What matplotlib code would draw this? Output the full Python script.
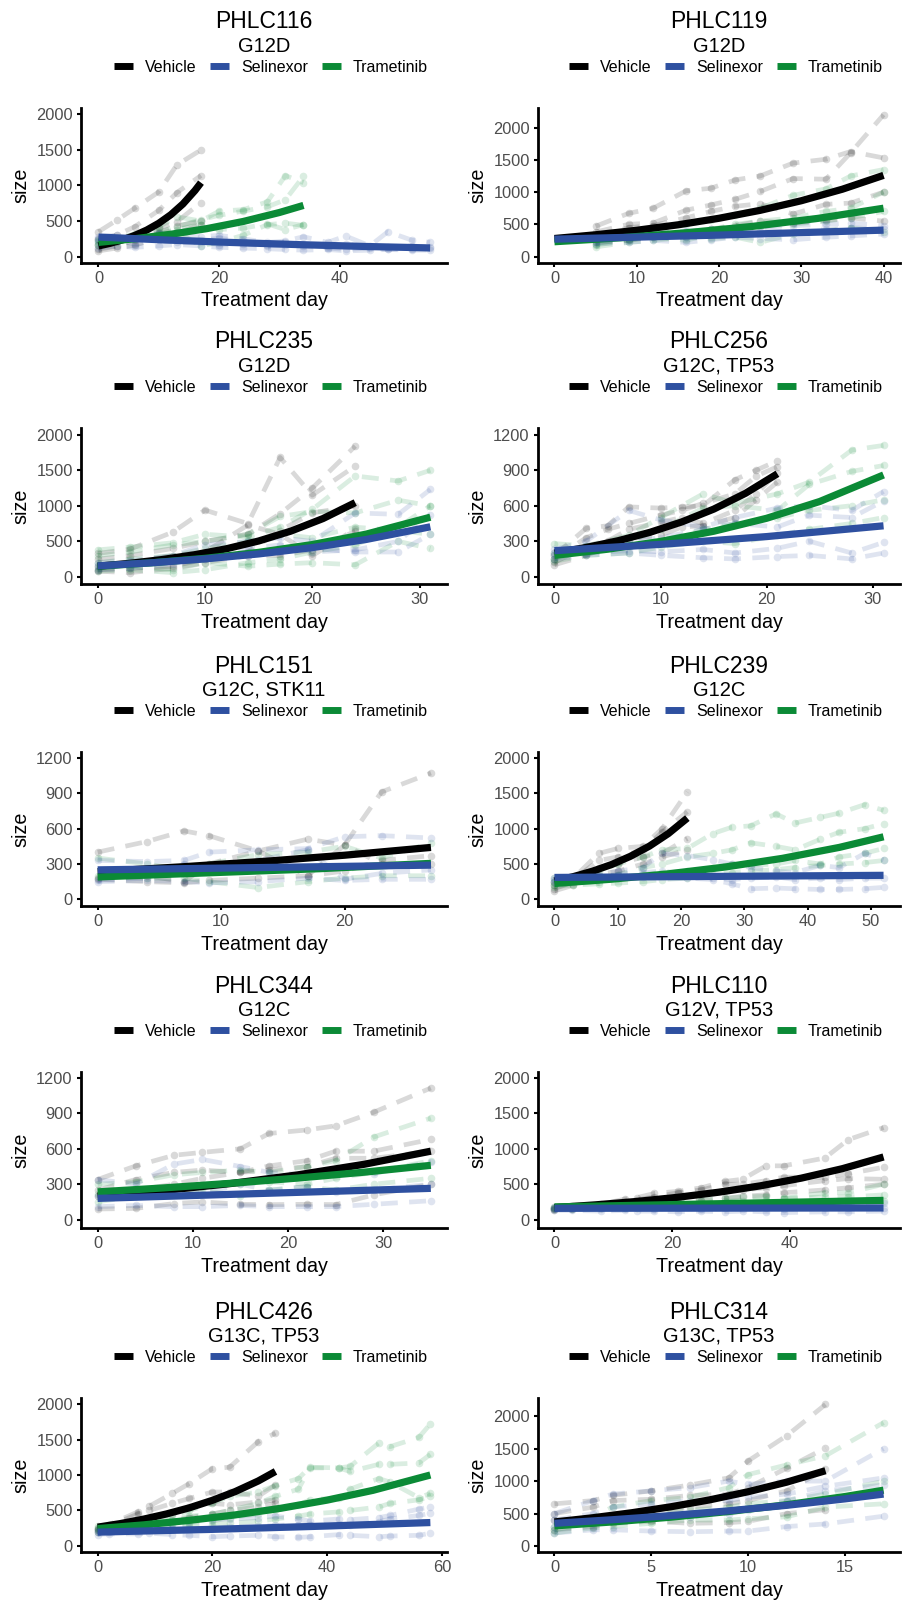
import numpy as np
import matplotlib.pyplot as plt
from matplotlib.lines import Line2D

plt.rcParams['font.family'] = ['Liberation Sans', 'DejaVu Sans']

groups = ['Vehicle', 'Selinexor', 'Trametinib']
group_colors = {'Vehicle': '#000000', 'Selinexor': '#2E50A0', 'Trametinib': '#0B8A36'}

# ---------------- PHLC116 ----------------
p116_veh_days = [0, 3, 6, 10, 13, 17]
p116_veh = [[350, 510, 680, 910, 1290, 1500],
            [250, 300, 420, 650, 900, 1140],
            [160, 220, 300, 400, 490, 760],
            [100, 150, 230, 330, 430, 500],
            [80, 120, 160, 260, 330, 450]]
p116_tra_days = [0, 3, 6, 10, 13, 17, 20, 24, 28, 31, 34]
p116_tra = [[230, 260, 320, 420, 560, 500, 640, 660, 770, 1140, 1040],
            [180, 220, 280, 350, 420, 520, 580, 640, 700, 800, 1130],
            [160, 200, 250, 300, 350, 150, 200, 300, 450, 470, 440],
            [220, 250, 280, 320, 380, 450, 380, 400, 460, 380, 450]]
p116_sel_days = [0, 3, 6, 10, 13, 17, 20, 24, 28, 31, 34, 38, 41, 45, 48, 52, 55]
p116_sel = [[280, 300, 260, 330, 300, 280, 300, 250, 200, 220, 280, 200, 290, 150, 350, 230, 200],
            [200, 220, 180, 230, 200, 200, 170, 180, 150, 160, 180, 120, 100, 120, 100, 110, 120],
            [120, 150, 130, 150, 170, 150, 130, 120, 110, 100, 90, 100, 80, 90, 100, 90, 90],
            [250, 250, 300, 280, 250, 230, 260, 220, 170, 200, 150, 150, 180, 130, 140, 150, 130]]
p116_fit_veh = ([0, 2, 4, 6, 8, 10, 12, 14, 16, 17], [150, 188, 237, 297, 373, 469, 589, 740, 929, 1040])
p116_fit_tra = ([0, 6, 12, 18, 24, 30, 34], [200, 251, 314, 394, 494, 620, 720])
p116_fit_sel = ([0, 11, 22, 33, 44, 55], [275, 234, 199, 169, 143, 122])

# ---------------- PHLC119 ----------------
p119_days = [5, 9, 12, 16, 19, 22, 25, 29, 33, 36, 40]
p119_veh = [[470, 670, 750, 1020, 1060, 1190, 1250, 1450, 1510, 1630, 1530],
            [380, 500, 520, 720, 800, 890, 1010, 1210, 1200, 1610, 2200],
            [300, 450, 480, 600, 700, 780, 820, 660, 810, 830, 1000],
            [220, 250, 300, 380, 420, 480, 550, 520, 560, 600, 550]]
p119_tra = [[250, 300, 380, 500, 560, 650, 750, 950, 1050, 1250, 1350],
            [180, 250, 320, 350, 420, 500, 550, 600, 700, 750, 1000],
            [150, 220, 250, 300, 280, 300, 220, 350, 400, 450, 380],
            [200, 280, 300, 250, 350, 400, 480, 500, 550, 600, 700]]
p119_sel = [[230, 280, 320, 300, 380, 400, 420, 380, 420, 450, 420],
            [280, 320, 360, 400, 420, 450, 470, 480, 500, 520, 480],
            [200, 220, 250, 220, 260, 300, 280, 260, 300, 320, 350]]
p119_fit_veh = ([0, 5, 10, 15, 20, 25, 30, 35, 40], [280, 338, 408, 492, 594, 717, 866, 1045, 1260])
p119_fit_tra = ([0, 8, 16, 24, 32, 40], [230, 291, 369, 467, 592, 750])
p119_fit_sel = ([0, 20, 40], [270, 333, 410])

# ---------------- PHLC235 ----------------
p235_veh_days = [0, 3, 7, 10, 14, 17, 20, 24]
p235_veh = [[330, 390, 630, 940, 750, 1680, 1150, 1560],
            [250, 300, 400, 500, 600, 890, 1250, 1840],
            [150, 200, 300, 350, 730, 600, 300, 670],
            [100, 120, 150, 250, 350, 650, 900, 1000],
            [80, 60, 120, 200, 300, 300, 380, 640]]
p235_days = [0, 3, 7, 10, 14, 17, 20, 24, 28, 31]
p235_tra = [[380, 420, 480, 600, 560, 700, 950, 1420, 1350, 1500],
            [300, 350, 450, 500, 600, 850, 920, 900, 1080, 1000],
            [200, 250, 300, 400, 500, 600, 550, 700, 650, 600],
            [120, 150, 100, 200, 150, 180, 200, 170, 500, 400],
            [80, 100, 60, 100, 200, 250, 350, 450, 700, 1000]]
p235_sel = [[200, 230, 300, 450, 500, 550, 500, 900, 880, 1230],
            [150, 180, 250, 300, 400, 450, 350, 380, 500, 870],
            [100, 120, 180, 250, 300, 350, 400, 350, 350, 600]]
p235_fit_veh = ([0, 3, 6, 9, 12, 15, 18, 21, 24], [150, 191, 244, 311, 396, 505, 644, 821, 1045])
p235_fit_tra = ([0, 5, 10, 15, 20, 25, 31], [150, 198, 261, 345, 455, 601, 840])
p235_fit_sel = ([0, 5, 10, 15, 20, 25, 31], [155, 198, 253, 323, 412, 526, 705])

# ---------------- PHLC256 ----------------
p256_veh_days = [0, 3, 5, 7, 10, 12, 14, 17, 19, 21]
p256_veh = [[180, 410, 430, 590, 580, 590, 600, 820, 900, 980],
            [150, 330, 400, 450, 520, 560, 620, 700, 850, 930],
            [120, 260, 300, 400, 460, 500, 450, 560, 700, 880],
            [100, 180, 250, 320, 350, 420, 430, 500, 650, 800]]
p256_days = [0, 3, 7, 10, 14, 17, 21, 24, 28, 31]
p256_tra = [[280, 260, 350, 500, 700, 620, 700, 800, 1070, 1110],
            [200, 250, 300, 400, 580, 600, 560, 780, 890, 940],
            [150, 220, 260, 300, 400, 450, 500, 560, 600, 650],
            [130, 180, 200, 250, 300, 280, 350, 400, 450, 500]]
p256_sel = [[230, 300, 560, 480, 420, 500, 580, 600, 560, 720],
            [200, 250, 300, 330, 400, 450, 420, 520, 500, 640],
            [180, 200, 220, 210, 230, 200, 240, 300, 200, 290],
            [150, 180, 200, 180, 160, 150, 170, 180, 150, 200]]
p256_fit_veh = ([0, 3, 6, 9, 12, 15, 18, 21], [200, 247, 304, 375, 463, 571, 705, 870])
p256_fit_tra = ([0, 5, 10, 15, 20, 25, 31], [180, 232, 298, 384, 494, 636, 860])
p256_fit_sel = ([0, 10, 20, 31], [220, 273, 339, 430])

# ---------------- PHLC151 ----------------
p151_days = [0, 4, 7, 9, 13, 17, 20, 23, 27]
p151_veh = [[400, 490, 580, 540, 410, 510, 460, 910, 1070],
            [170, 150, 140, 160, 180, 200, 240, 330, 370],
            [180, 200, 150, 300, 410, 200, 460, 300, 300]]
p151_tra = [[350, 300, 250, 300, 380, 400, 450, 350, 480],
            [200, 180, 180, 150, 100, 150, 180, 200, 200]]
p151_sel = [[330, 320, 330, 400, 420, 430, 530, 540, 520],
            [160, 180, 300, 250, 330, 420, 170, 220, 250],
            [150, 160, 150, 140, 150, 180, 160, 170, 170]]
p151_fit_veh = ([0, 7, 14, 20, 27], [235, 277, 326, 374, 440])
p151_fit_tra = ([0, 9, 18, 27], [190, 225, 260, 305])
p151_fit_sel = ([0, 27], [250, 290])

# ---------------- PHLC239 ----------------
p239_veh_days = [0, 3, 7, 10, 14, 17, 21]
p239_veh = [[250, 300, 650, 720, 750, 1000, 1520],
            [200, 280, 550, 600, 700, 950, 1240],
            [150, 250, 450, 500, 600, 650, 860],
            [120, 200, 350, 400, 500, 600, 700]]
p239_days = [0, 3, 7, 10, 14, 17, 21, 25, 28, 31, 35, 38, 42, 45, 49, 52]
p239_tra = [[300, 320, 400, 500, 600, 700, 720, 930, 1020, 1040, 1210, 1080, 1160, 1220, 1340, 1260],
            [250, 280, 300, 350, 450, 500, 600, 650, 700, 800, 750, 700, 850, 950, 1000, 1070],
            [200, 220, 250, 300, 350, 380, 400, 450, 500, 480, 500, 550, 500, 600, 650, 720],
            [180, 200, 220, 230, 250, 280, 300, 350, 380, 400, 420, 450, 480, 500, 520, 550]]
p239_sel = [[300, 320, 350, 400, 450, 650, 620, 560, 500, 450, 400, 380, 480, 450, 650, 560],
            [280, 300, 320, 350, 380, 400, 350, 300, 280, 300, 320, 280, 300, 280, 300, 300],
            [250, 270, 300, 300, 320, 350, 300, 280, 220, 150, 160, 150, 140, 140, 150, 170]]
p239_fit_veh = ([0, 3, 6, 9, 12, 15, 18, 21], [260, 322, 398, 492, 609, 753, 931, 1150])
p239_fit_tra = ([0, 9, 18, 27, 36, 45, 52], [225, 285, 361, 458, 580, 735, 885])
p239_fit_sel = ([0, 52], [310, 340])

# ---------------- PHLC344 ----------------
p344_days = [0, 4, 8, 11, 15, 18, 22, 25, 29, 35]
p344_veh = [[340, 455, 545, 570, 600, 730, 760, 795, 910, 1115],
            [250, 340, 400, 420, 400, 455, 500, 580, 580, 680],
            [200, 250, 300, 350, 400, 420, 450, 520, 520, 580],
            [90, 95, 136, 150, 130, 127, 130, 127, 210, 300]]
p344_tra = [[300, 320, 380, 400, 420, 400, 450, 500, 700, 860],
            [220, 250, 260, 280, 300, 320, 300, 350, 400, 500],
            [150, 200, 220, 250, 200, 250, 280, 250, 300, 350]]
p344_sel = [[340, 300, 470, 510, 450, 400, 380, 400, 390, 490],
            [200, 220, 250, 220, 300, 250, 280, 230, 250, 300],
            [110, 120, 110, 110, 120, 110, 110, 110, 130, 160]]
p344_fit_veh = ([0, 7, 14, 21, 28, 35], [200, 247, 306, 379, 469, 580])
p344_fit_tra = ([0, 7, 14, 21, 28, 35], [235, 269, 308, 352, 402, 460])
p344_fit_sel = ([0, 35], [180, 265])

# ---------------- PHLC110 ----------------
p110_days = [0, 3, 8, 12, 14, 17, 21, 25, 29, 32, 36, 39, 46, 50, 56]
p110_veh = [[170, 180, 220, 290, 310, 370, 400, 450, 540, 570, 760, 760, 870, 1130, 1300],
            [160, 170, 200, 250, 280, 320, 380, 420, 500, 500, 550, 600, 600, 650, 740],
            [150, 160, 190, 220, 250, 280, 320, 350, 400, 420, 450, 480, 550, 580, 570],
            [140, 150, 170, 190, 200, 230, 250, 270, 300, 330, 350, 380, 420, 450, 500]]
p110_tra = [[180, 190, 200, 220, 230, 250, 260, 280, 300, 320, 330, 300, 380, 380, 500],
            [170, 175, 180, 190, 200, 210, 220, 240, 260, 270, 280, 300, 320, 320, 350],
            [150, 150, 160, 170, 170, 180, 190, 200, 210, 220, 220, 230, 240, 250, 260]]
p110_sel = [[180, 180, 190, 200, 200, 210, 200, 210, 220, 200, 210, 220, 230, 220, 230],
            [150, 150, 150, 160, 160, 150, 160, 150, 160, 150, 160, 150, 160, 170, 160],
            [130, 130, 120, 130, 120, 120, 110, 120, 110, 120, 110, 100, 110, 110, 120]]
p110_fit_veh = ([0, 7, 14, 21, 28, 35, 42, 49, 56], [170, 209, 257, 316, 388, 477, 586, 720, 885])
p110_fit_tra = ([0, 28, 56], [180, 225, 272])
p110_fit_sel = ([0, 56], [160, 165])

# ---------------- PHLC426 ----------------
p426_veh_days = [0, 2, 7, 9, 13, 16, 20, 23, 28, 31]
p426_veh = [[260, 300, 480, 560, 740, 880, 1090, 1110, 1470, 1590],
            [240, 280, 450, 500, 600, 670, 760, 760, 700, 860],
            [220, 250, 350, 400, 450, 550, 600, 580, 620, 650],
            [200, 220, 250, 300, 350, 400, 450, 500, 550, 600]]
p426_days = [0, 2, 7, 9, 13, 16, 20, 23, 28, 31, 35, 37, 42, 44, 49, 51, 56, 58]
p426_tra = [[280, 300, 350, 380, 420, 500, 600, 700, 760, 850, 950, 1110, 1100, 1120, 1450, 1400, 1530, 1720],
            [250, 270, 300, 330, 360, 420, 450, 500, 600, 700, 800, 1100, 1100, 1050, 1150, 1150, 1170, 1290],
            [220, 240, 260, 280, 300, 330, 350, 400, 450, 500, 580, 650, 680, 800, 950, 900, 680, 740],
            [200, 210, 230, 250, 260, 280, 300, 320, 350, 380, 420, 450, 480, 500, 550, 600, 650, 700]]
p426_sel = [[230, 250, 280, 300, 320, 350, 370, 380, 400, 420, 380, 350, 380, 370, 400, 430, 520, 550],
            [190, 200, 220, 230, 240, 250, 250, 270, 280, 290, 300, 300, 310, 300, 340, 380, 430, 460],
            [160, 170, 170, 180, 160, 150, 130, 140, 150, 130, 120, 130, 160, 150, 130, 140, 150, 180]]
p426_fit_veh = ([0, 4, 8, 12, 16, 20, 24, 28, 31], [265, 316, 378, 451, 538, 643, 767, 916, 1050])
p426_fit_tra = ([0, 8, 16, 24, 32, 40, 48, 58], [245, 297, 361, 438, 532, 646, 784, 1000])
p426_fit_sel = ([0, 20, 40, 58], [195, 234, 281, 330])

# ---------------- PHLC314 ----------------
p314_veh_days = [0, 2, 3, 5, 7, 9, 10, 12, 14]
p314_veh = [[650, 700, 780, 850, 940, 1050, 1310, 1700, 2180],
            [500, 600, 700, 720, 780, 800, 900, 1200, 1510],
            [400, 420, 450, 500, 600, 650, 700, 850, 1180],
            [250, 300, 350, 380, 350, 360, 380, 500, 560]]
p314_days = [0, 2, 3, 5, 7, 9, 10, 12, 14, 17]
p314_tra = [[300, 450, 600, 700, 750, 900, 1100, 1250, 1390, 1900],
            [250, 350, 400, 500, 550, 600, 650, 700, 800, 1000],
            [200, 280, 300, 350, 400, 400, 420, 450, 600, 650]]
p314_sel = [[500, 700, 800, 850, 900, 1000, 950, 1000, 1000, 1500],
            [400, 500, 600, 650, 700, 700, 750, 800, 920, 1050],
            [300, 350, 400, 450, 450, 500, 550, 700, 850, 940],
            [200, 250, 250, 230, 220, 230, 230, 300, 340, 460]]
p314_fit_veh = ([0, 2, 4, 6, 8, 10, 12, 14], [370, 436, 513, 604, 710, 836, 984, 1160])
p314_fit_tra = ([0, 3, 6, 9, 12, 15, 17], [310, 371, 444, 532, 636, 762, 860])
p314_fit_sel = ([0, 3, 6, 9, 12, 15, 17], [350, 405, 469, 542, 627, 726, 800])

# panel texts and scales
titles = ['PHLC116', 'PHLC119', 'PHLC235', 'PHLC256', 'PHLC151',
          'PHLC239', 'PHLC344', 'PHLC110', 'PHLC426', 'PHLC314']
subtitles = ['G12D', 'G12D', 'G12D', 'G12C, TP53', 'G12C, STK11',
             'G12C', 'G12C', 'G12V, TP53', 'G13C, TP53', 'G13C, TP53']
xticks = [[0, 20, 40], [0, 10, 20, 30, 40], [0, 10, 20, 30], [0, 10, 20, 30], [0, 10, 20],
          [0, 10, 20, 30, 40, 50], [0, 10, 20, 30], [0, 20, 40], [0, 20, 40, 60], [0, 5, 10, 15]]
yticks_2000 = [0, 500, 1000, 1500, 2000]
yticks_1200 = [0, 300, 600, 900, 1200]
yticks = [yticks_2000, yticks_2000, yticks_2000, yticks_1200, yticks_1200,
          yticks_2000, yticks_1200, yticks_2000, yticks_2000, yticks_2000]
xlims = [(-2.9, 57.8), (-2.0, 42.0), (-1.55, 32.55), (-1.55, 32.55), (-1.35, 28.3),
         (-2.6, 54.6), (-1.75, 36.7), (-2.8, 58.8), (-2.9, 60.9), (-0.85, 17.85)]
ylims = [(-90, 2090), (-100, 2305), (-100, 2095), (-62, 1257), (-56, 1248),
         (-94, 2085), (-71, 1251), (-118, 2085), (-85, 2085), (-92, 2280)]

panel_data = [
    {'Vehicle': (p116_veh_days, p116_veh), 'Trametinib': (p116_tra_days, p116_tra), 'Selinexor': (p116_sel_days, p116_sel)},
    {'Vehicle': (p119_days, p119_veh), 'Trametinib': (p119_days, p119_tra), 'Selinexor': (p119_days, p119_sel)},
    {'Vehicle': (p235_veh_days, p235_veh), 'Trametinib': (p235_days, p235_tra), 'Selinexor': (p235_days, p235_sel)},
    {'Vehicle': (p256_veh_days, p256_veh), 'Trametinib': (p256_days, p256_tra), 'Selinexor': (p256_days, p256_sel)},
    {'Vehicle': (p151_days, p151_veh), 'Trametinib': (p151_days, p151_tra), 'Selinexor': (p151_days, p151_sel)},
    {'Vehicle': (p239_veh_days, p239_veh), 'Trametinib': (p239_days, p239_tra), 'Selinexor': (p239_days, p239_sel)},
    {'Vehicle': (p344_days, p344_veh), 'Trametinib': (p344_days, p344_tra), 'Selinexor': (p344_days, p344_sel)},
    {'Vehicle': (p110_days, p110_veh), 'Trametinib': (p110_days, p110_tra), 'Selinexor': (p110_days, p110_sel)},
    {'Vehicle': (p426_veh_days, p426_veh), 'Trametinib': (p426_days, p426_tra), 'Selinexor': (p426_days, p426_sel)},
    {'Vehicle': (p314_veh_days, p314_veh), 'Trametinib': (p314_days, p314_tra), 'Selinexor': (p314_days, p314_sel)},
]
panel_fits = [
    {'Vehicle': p116_fit_veh, 'Trametinib': p116_fit_tra, 'Selinexor': p116_fit_sel},
    {'Vehicle': p119_fit_veh, 'Trametinib': p119_fit_tra, 'Selinexor': p119_fit_sel},
    {'Vehicle': p235_fit_veh, 'Trametinib': p235_fit_tra, 'Selinexor': p235_fit_sel},
    {'Vehicle': p256_fit_veh, 'Trametinib': p256_fit_tra, 'Selinexor': p256_fit_sel},
    {'Vehicle': p151_fit_veh, 'Trametinib': p151_fit_tra, 'Selinexor': p151_fit_sel},
    {'Vehicle': p239_fit_veh, 'Trametinib': p239_fit_tra, 'Selinexor': p239_fit_sel},
    {'Vehicle': p344_fit_veh, 'Trametinib': p344_fit_tra, 'Selinexor': p344_fit_sel},
    {'Vehicle': p110_fit_veh, 'Trametinib': p110_fit_tra, 'Selinexor': p110_fit_sel},
    {'Vehicle': p426_fit_veh, 'Trametinib': p426_fit_tra, 'Selinexor': p426_fit_sel},
    {'Vehicle': p314_fit_veh, 'Trametinib': p314_fit_tra, 'Selinexor': p314_fit_sel},
]

# layout in pixels of the 902 x 1601 image
W, H = 902, 1601
col_x = [(81, 447), (538, 900)]
row_y = [(108, 263), (428, 584), (752, 906), (1072, 1228), (1398, 1552)]
draw_order = ['Vehicle', 'Trametinib', 'Selinexor']
tick_grey = '#4D4D4D'

fig = plt.figure(figsize=(W / 100, H / 100), dpi=100)

for i in range(10):
    r, c = divmod(i, 2)
    x0, x1 = col_x[c]
    y0, y1 = row_y[r]
    ax = fig.add_axes([x0 / W, 1 - y1 / H, (x1 - x0) / W, (y1 - y0) / H])

    # individual mice
    for g in draw_order:
        days, mice = panel_data[i][g]
        for m in mice:
            ax.plot(days, m, color=group_colors[g], alpha=0.15, lw=3.4,
                    dashes=(3.6, 2.4), dash_capstyle='butt',
                    marker='o', ms=5.5, mew=0, zorder=1)
    # fitted growth curves
    for g in draw_order:
        fd, fv = panel_fits[i][g]
        ax.plot(fd, fv, color=group_colors[g], lw=5.2, solid_capstyle='butt',
                solid_joinstyle='round', zorder=3)

    ax.set_xlim(*xlims[i])
    ax.set_ylim(*ylims[i])
    ax.set_xticks(xticks[i])
    ax.set_yticks(yticks[i])
    for s in ['top', 'right']:
        ax.spines[s].set_visible(False)
    for s in ['left', 'bottom']:
        ax.spines[s].set_linewidth(2.0)
    ax.tick_params(length=3, width=1.5, pad=3, labelsize=11.8, labelcolor=tick_grey)

    cx = (x0 + x1) / 2
    ax.set_xlabel('Treatment day', fontsize=14.2)
    ax.xaxis.set_label_coords(0.5, -38 / (y1 - y0))
    ax.xaxis.label.set_va('center')
    ax.set_ylabel('size', fontsize=14.2)
    ax.yaxis.set_label_coords(-60 / (x1 - x0), 0.5)
    ax.yaxis.label.set_va('center')

    fig.text(cx / W, 1 - (y0 - 86) / H, titles[i], fontsize=16.5, ha='center', va='center')
    fig.text(cx / W, 1 - (y0 - 62) / H, subtitles[i], fontsize=14.5, ha='center', va='center')

    handles = [Line2D([], [], color=group_colors[g], lw=5, solid_capstyle='butt') for g in groups]
    ax.legend(handles, groups, loc='center', bbox_to_anchor=((cx + 7) / W, 1 - (y0 - 41) / H),
              bbox_transform=fig.transFigure, ncol=3, frameon=False, fontsize=11.5,
              handlelength=1.2, handletextpad=0.75, columnspacing=0.85, borderpad=0)

fig.savefig('out.png', dpi=100)
